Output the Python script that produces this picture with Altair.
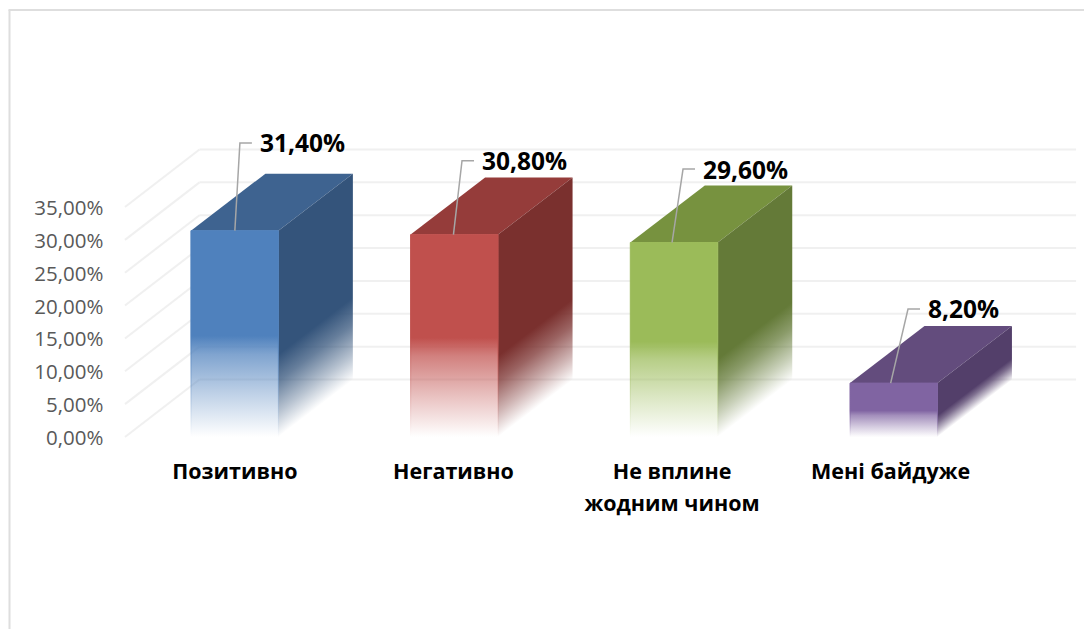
import altair as alt
import pandas as pd

categories = ["Позитивно", "Негативно", "Не вплине\nжодним чином", "Мені байдуже"]
values = [31.4, 30.8, 29.6, 8.2]
value_labels = ["31,40%", "30,80%", "29,60%", "8,20%"]
front_colors = [(79, 129, 189), (192, 80, 77), (155, 187, 89), (128, 100, 162)]
top_colors = ["#3e6390", "#953c3a", "#77923f", "#634c7d"]
side_colors = [(52, 84, 123), (122, 48, 46), (100, 122, 56), (83, 63, 106)]
ticks = [0, 5, 10, 15, 20, 25, 30, 35]

# Where each callout leaves the bar and where its elbow sits, in scale units
leader_base_x = [0.50, 1.495, 2.49, 3.485]
leader_elbow_x = [0.523, 1.534, 2.54, 3.564]
leader_elbow_y = [44.74, 42.05, 40.78, 19.48]

FONT = "Open Sans"
W, H = 1076, 621
SLOT = 219.7
PCT = 230.0 / 35
X0_PAGE, Y0_PAGE = 125.0, 437.0
BAR_L, BAR_W = 0.30, 0.398
DX, DY = 74.5 / SLOT, 57 / PCT
WALL_DX, WALL_DY = 74.5 / SLOT, 57.5 / PCT
WALL_END = 3.99 + WALL_DX

xmin = -(X0_PAGE - 8) / SLOT
ymax = (Y0_PAGE - 8) / PCT
xs = alt.Scale(domain=[xmin, xmin + W / SLOT], nice=False, zero=False)
ys = alt.Scale(domain=[ymax - H / PCT, ymax], nice=False, zero=False)
y_axis = alt.Axis(
    title=None, values=ticks, domain=False, ticks=False, grid=False,
    labelPadding=-95, labelFont=FONT, labelFontSize=20.5, labelColor="#595959",
    labelExpr="replace(format(datum.value, '.2f'), '.', ',') + '%'",
    labelOverlap=False, labelBound=False, labelFlush=False, labelOffset=1.5,
)
NX = alt.X("x:Q", scale=xs, axis=None)
NY = alt.Y("y:Q", scale=ys, axis=y_axis)


def front_stops(rgb):
    c = "rgba(%d,%d,%d,%%s)" % rgb
    return [
        alt.GradientStop(color=c % 1, offset=0),
        alt.GradientStop(color=c % 1, offset=0.51),
        alt.GradientStop(color=c % 0.72, offset=0.60),
        alt.GradientStop(color=c % 0.35, offset=0.80),
        alt.GradientStop(color=c % 0, offset=1),
    ]


def side_stops(rgb):
    c = "rgba(%d,%d,%d,%%s)" % rgb
    return [
        alt.GradientStop(color=c % 1, offset=0),
        alt.GradientStop(color=c % 1, offset=0.60),
        alt.GradientStop(color=c % 0.75, offset=0.73),
        alt.GradientStop(color=c % 0.35, offset=0.88),
        alt.GradientStop(color=c % 0, offset=1),
    ]


frame_df = pd.DataFrame({"a": [0]})
frame_left = alt.Chart(frame_df).mark_rule(color="#dedede", strokeWidth=2).encode(
    x=alt.value(1.5), y=alt.value(2), y2=alt.value(H)
)
frame_top = alt.Chart(frame_df).mark_rule(color="#dedede", strokeWidth=2).encode(
    x=alt.value(0.5), x2=alt.value(W), y=alt.value(2)
)

grid_back = pd.DataFrame({"x": [WALL_DX] * len(ticks), "x2": [WALL_END] * len(ticks),
                          "y": [t + WALL_DY for t in ticks]})
grid_side = pd.DataFrame({"x": [0.0] * len(ticks), "x2": [WALL_DX] * len(ticks),
                          "y": list(ticks), "y2": [t + WALL_DY for t in ticks]})
rule = dict(color="#f0f0f0", strokeWidth=2)
grid1 = alt.Chart(grid_back).mark_rule(**rule).encode(x=NX, x2="x2:Q", y=NY)
grid2 = alt.Chart(grid_side).mark_rule(**rule).encode(x=NX, x2="x2:Q", y=NY, y2="y2:Q")

faces = []
for i, v in enumerate(values):
    x0 = i + BAR_L
    x1 = x0 + BAR_W
    top_df = pd.DataFrame({
        "x": [x0, x0 + DX, x1, x1 + DX],
        "y": [v, v + DY, v + DY, v + DY],
        "y2": [v, v, v, v + DY],
    })
    faces.append(alt.Chart(top_df).mark_area(fill=top_colors[i], line=False).encode(x=NX, y=NY, y2="y2:Q"))

    side_df = pd.DataFrame({"x": [x1, x1 + DX], "y": [v, v + DY], "y2": [0, DY]})
    s = DY / (v + DY)
    grad_side = alt.LinearGradient(
        gradient="linear", stops=side_stops(side_colors[i]),
        x1=0, y1=s, x2=s * (1 - s) / (1 + s * s), y2=s + (1 - s) / (1 + s * s),
    )
    faces.append(alt.Chart(side_df).mark_area(fill=grad_side, line=False).encode(x=NX, y=NY, y2="y2:Q"))

    front_df = pd.DataFrame({"x": [x0], "x2": [x1], "y": [v], "y2": [0]})
    grad_front = alt.LinearGradient(
        gradient="linear", stops=front_stops(front_colors[i]), x1=0, y1=0, x2=0, y2=1
    )
    faces.append(alt.Chart(front_df).mark_rect(fill=grad_front, stroke=grad_front, strokeWidth=1).encode(
        x=NX, x2="x2:Q", y=NY, y2="y2:Q"))

leader_rows = []
for i, v in enumerate(values):
    leader_rows += [
        {"bar": i, "o": 0, "x": leader_base_x[i], "y": v},
        {"bar": i, "o": 1, "x": leader_elbow_x[i], "y": leader_elbow_y[i]},
        {"bar": i, "o": 2, "x": leader_elbow_x[i] + 12 / SLOT, "y": leader_elbow_y[i]},
    ]
leaders = alt.Chart(pd.DataFrame(leader_rows)).mark_line(color="#a6a6a6", strokeWidth=1.5).encode(
    x=NX, y=NY, detail="bar:N", order="o:Q"
)

value_df = pd.DataFrame({
    "x": [e + 20 / SLOT for e in leader_elbow_x],
    "y": leader_elbow_y,
    "t": value_labels,
})
value_text = alt.Chart(value_df).mark_text(
    font=FONT, fontWeight="bold", fontSize=24.5, color="#000000", align="left", baseline="middle", dy=2.5
).encode(x=NX, y=NY, text="t:N")

cat_df = pd.DataFrame({
    "x": leader_base_x,
    "y": [-5.4] * len(categories),
    "t": categories,
})
cat_text = alt.Chart(cat_df).mark_text(
    font=FONT, fontWeight="bold", fontSize=21.5, color="#000000", align="center", baseline="middle",
    lineBreak="\n", lineHeight=32, dy=1,
).encode(x=NX, y=NY, text="t:N")

chart = alt.layer(frame_left, frame_top, grid1, grid2, *faces, leaders, value_text, cat_text).properties(
    width=W, height=H, padding=0, autosize=alt.AutoSizeParams(type="none"),
    background="#ffffff",
).configure_view(stroke=None)

chart.save("out.html", embed_options={"renderer": "svg", "actions": False})
